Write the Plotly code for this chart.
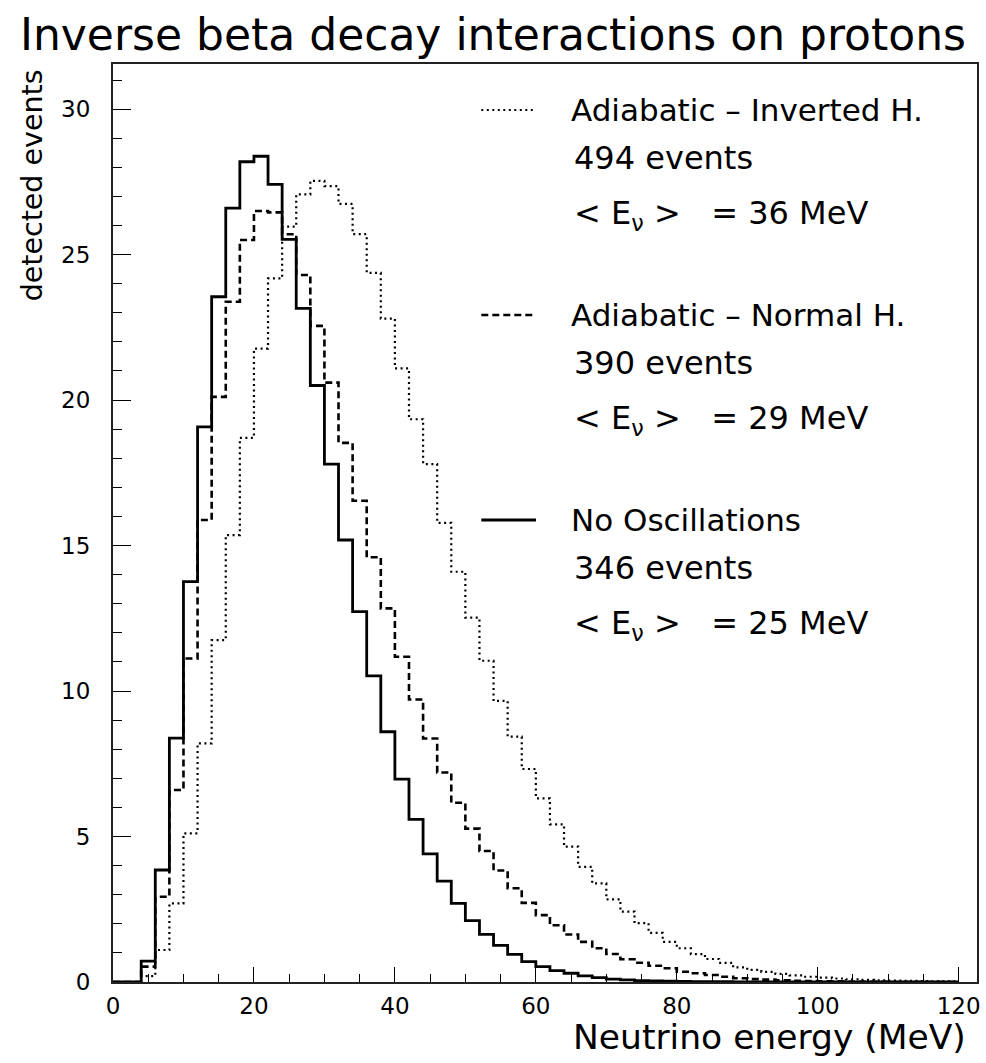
import plotly.graph_objects as go

# ---------------- data (2 MeV bins, 0..120 MeV) ----------------
bin_edges = list(range(0, 122, 2))

no_osc = [0, 0, 0.72, 3.85, 8.38, 13.76, 19.08, 23.55, 26.6, 28.19,
          28.38, 27.41, 25.52, 23.15, 20.5, 17.8, 15.19, 12.73, 10.52, 8.6,
          6.97, 5.59, 4.4, 3.47, 2.70, 2.11, 1.64, 1.26, 0.95, 0.70,
          0.53, 0.39, 0.30, 0.21, 0.15, 0.10, 0.07, 0.05, 0.04, 0.03,
          0.02, 0.015, 0.01, 0.01, 0.005, 0, 0, 0, 0, 0,
          0, 0, 0, 0, 0, 0, 0, 0, 0, 0]

normal_h = [0, 0, 0.53, 2.93, 6.6, 11.12, 15.88, 20.11, 23.38, 25.5,
            26.5, 26.45, 25.7, 24.3, 22.55, 20.6, 18.53, 16.54, 14.6, 12.84,
            11.18, 9.71, 8.37, 7.2, 6.16, 5.27, 4.5, 3.83, 3.22, 2.72,
            2.3, 1.95, 1.63, 1.38, 1.16, 0.96, 0.78, 0.66, 0.56, 0.47,
            0.35, 0.3, 0.24, 0.18, 0.13, 0.1, 0.08, 0.06, 0.04, 0.03,
            0.02, 0.02, 0.01, 0.01, 0.01, 0, 0, 0, 0, 0]

inverted_h = [0, 0, 0.2, 1.1, 2.7, 5.11, 8.2, 11.75, 15.36, 18.7,
              21.77, 24.18, 25.96, 27.07, 27.53, 27.35, 26.74, 25.7, 24.37, 22.8,
              21.09, 19.34, 17.8, 15.78, 14.1, 12.52, 11.04, 9.66, 8.43, 7.32,
              6.31, 5.42, 4.65, 3.96, 3.39, 2.84, 2.42, 2.02, 1.69, 1.38,
              1.16, 0.96, 0.79, 0.66, 0.5, 0.42, 0.35, 0.28, 0.23, 0.18,
              0.15, 0.12, 0.09, 0.07, 0.06, 0.05, 0.04, 0.03, 0.02, 0.02]

series_names = ["Adiabatic \u2013 Inverted H.", "Adiabatic \u2013 Normal H.", "No Oscillations"]
series_events = ["494 events", "390 events", "346 events"]
series_mean = ["36", "29", "25"]

x_ticks = [0, 20, 40, 60, 80, 100, 120]
y_ticks = [0, 5, 10, 15, 20, 25, 30]

FONT = "DejaVu Sans"

# ---------------- figure ----------------
W, H = 986, 1063
L, R, T, B = 113, 5, 64, 81
PW, PH = W - L - R, H - T - B

def px_x(p):
    return (p - L) / PW

def px_y(p):
    return (H - B - p) / PH

styles = [
    dict(color="black", width=2.2, dash="2px,3.5px"),
    dict(color="black", width=2.6, dash="7px,4px"),
    dict(color="black", width=2.8, dash="solid"),
]
series_vals = [inverted_h, normal_h, no_osc]

fig = go.Figure()
for name, vals, st in zip(series_names, series_vals, styles):
    fig.add_trace(go.Scatter(
        x=bin_edges, y=vals + [vals[-1]], mode="lines", line_shape="hv",
        line=st, name=name, showlegend=False, hoverinfo="skip"))

# legend-like annotations
group_y = [110, 315, 520]
for i in range(3):
    gy = group_y[i]
    st = styles[i]
    fig.add_shape(type="line", xref="paper", yref="paper",
                  x0=px_x(483), x1=px_x(538), y0=px_y(gy), y1=px_y(gy),
                  line=dict(color="black", width=st["width"], dash=st["dash"]))
    fig.add_annotation(xref="paper", yref="paper", x=px_x(571), y=px_y(gy),
                       xanchor="left", yanchor="middle", showarrow=False,
                       text=series_names[i], font=dict(family=FONT, size=31, color="black"))
    fig.add_annotation(xref="paper", yref="paper", x=px_x(574), y=px_y(gy + 48),
                       xanchor="left", yanchor="middle", showarrow=False,
                       text=series_events[i], font=dict(family=FONT, size=32, color="black"))
    fig.add_annotation(xref="paper", yref="paper", x=px_x(574), y=px_y(gy + 105),
                       xanchor="left", yanchor="middle", showarrow=False,
                       text="&lt; E<sub>\u03bd</sub> &gt;&nbsp;&nbsp; = " + series_mean[i] + " MeV",
                       font=dict(family=FONT, size=32, color="black"))

# axis titles
fig.add_annotation(xref="paper", yref="paper", x=px_x(972), y=px_y(1037),
                   xanchor="right", yanchor="middle", showarrow=False,
                   text="Neutrino energy (MeV)", font=dict(family=FONT, size=34.5, color="black"))
fig.add_annotation(xref="paper", yref="paper", x=px_x(32), y=px_y(67),
                   xanchor="center", yanchor="top", showarrow=False, textangle=-90,
                   text="detected events", font=dict(family=FONT, size=28.5, color="black"))

fig.update_layout(
    width=W, height=H,
    margin=dict(l=L, r=R, t=T, b=B),
    paper_bgcolor="white", plot_bgcolor="white",
    title=dict(text="Inverse beta decay interactions on protons",
               x=0.5, xanchor="center", y=1 - 35 / H, yanchor="middle",
               font=dict(family=FONT, size=44, color="black")),
    font=dict(family=FONT, color="black"),
)

fig.update_xaxes(range=[0, 122.6], tickvals=x_ticks, ticktext=[str(v) for v in x_ticks],
                 ticks="inside", ticklen=15, tickwidth=1.3, tickcolor="black",
                 minor=dict(ticks="inside", dtick=5, tick0=0, ticklen=8, tickwidth=1.3, tickcolor="black"),
                 showline=True, linecolor="#222", linewidth=2, mirror=True,
                 showgrid=False, zeroline=False, ticklabelstandoff=2,
                 ticklabeloverflow="allow",
                 tickfont=dict(family=FONT, size=23, color="black"))
fig.update_yaxes(range=[0, 31.55], tickvals=y_ticks, ticktext=[str(v) for v in y_ticks],
                 ticks="inside", ticklen=18, tickwidth=1.3, tickcolor="black",
                 minor=dict(ticks="inside", dtick=1, tick0=0, ticklen=9, tickwidth=1.3, tickcolor="black"),
                 showline=True, linecolor="#222", linewidth=2, mirror=True,
                 showgrid=False, zeroline=False, ticklabelstandoff=16,
                 tickfont=dict(family=FONT, size=23, color="black"))

fig.write_html("out.html")
